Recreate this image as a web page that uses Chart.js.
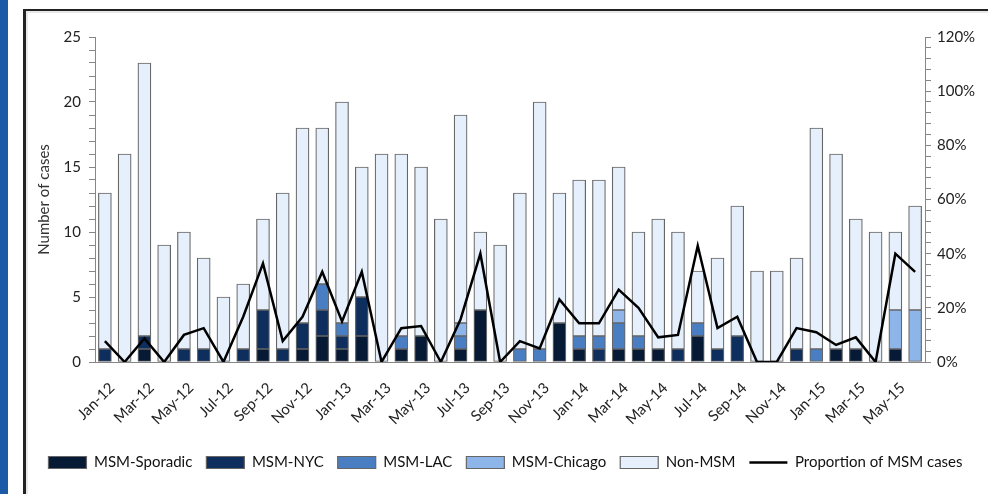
<!DOCTYPE html>
<html>
<head>
<meta charset="utf-8">
<script src="https://cdn.jsdelivr.net/npm/chart.js@4.4.1/dist/chart.umd.min.js"></script>
<style>
  html, body { margin: 0; padding: 0; background: #fff; }
  #wrap { position: relative; width: 988px; height: 494px; overflow: hidden; }
  #band { position: absolute; left: 0; top: 0; width: 8px; height: 494px; background: #1b5aa7; }
  #frame { position: absolute; left: 23px; top: 9px; right: -4px; bottom: -4px;
           border-left: 3px solid #222; border-top: 2px solid #222;
           box-shadow: inset 2px 2px 0 #e8e8e8; }
  #c { position: absolute; left: 0; top: 0; }
</style>
</head>
<body>
<div id="wrap">
  <div id="band"></div>
  <div id="frame"></div>
  <canvas id="c" width="988" height="494"></canvas>
</div>
<script>
// meses Jan-12 .. Jun-15
const months = [
  'Jan-12','Feb-12','Mar-12','Apr-12','May-12','Jun-12','Jul-12','Aug-12','Sep-12','Oct-12','Nov-12','Dec-12',
  'Jan-13','Feb-13','Mar-13','Apr-13','May-13','Jun-13','Jul-13','Aug-13','Sep-13','Oct-13','Nov-13','Dec-13',
  'Jan-14','Feb-14','Mar-14','Apr-14','May-14','Jun-14','Jul-14','Aug-14','Sep-14','Oct-14','Nov-14','Dec-14',
  'Jan-15','Feb-15','Mar-15','Apr-15','May-15','Jun-15'
];

const msmSporadic = [0,0,1,0,0,0,0,0,1,0,1,2, 1,2,0,1,2,0,1,4,0,0,0,3, 1,0,1,1,1,0,2,0,0,0,0,0, 0,1,1,0,1,0];
const msmNYC      = [1,0,1,0,1,1,0,1,3,1,2,2, 1,3,0,0,0,0,0,0,0,0,0,0, 0,1,0,0,0,1,0,1,2,0,0,1, 0,0,0,0,0,0];
const msmLAC      = [0,0,0,0,0,0,0,0,0,0,0,2, 1,0,0,1,0,0,1,0,0,1,1,0, 1,1,2,1,0,0,1,0,0,0,0,0, 1,0,0,0,0,0];
const msmChicago  = [0,0,0,0,0,0,0,0,0,0,0,0, 0,0,0,0,0,0,1,0,0,0,0,0, 0,0,1,0,0,0,0,0,0,0,0,0, 0,0,0,0,3,4];
const nonMSM      = [12,16,21,9,9,7,5,5,7,12,15,12, 17,10,16,14,13,11,16,6,9,12,19,10, 12,12,11,8,10,9,4,7,10,7,7,7, 17,15,10,10,6,8];

// proporcion de casos MSM (%), eje derecho
const propMSM = [7.7,0,8.7,0,10,12.5,0,16.7,36.4,7.7,16.7,33.3, 15,33.3,0,12.5,13.3,0,15.8,40,0,7.7,5,23.1,
                 14.3,14.3,26.7,20,9.1,10,42.9,12.5,16.7,0,0,12.5, 11,6.3,9.1,0,40,33.3];

const FONT = 'Lato, "Open Sans", sans-serif';
const AXIS_GRAY = '#868686';
const BAR_EDGE = '#666';

function barSet(label, data, color) {
  return {
    type: 'bar', label, data,
    backgroundColor: color,
    borderColor: BAR_EDGE,
    borderWidth: 1.2,
    borderSkipped: false,
    pointStyle: 'rect',
    stack: 'cases',
    yAxisID: 'y',
    order: 1,
    barThickness: 13
  };
}

new Chart(document.getElementById('c').getContext('2d'), {
  data: {
    labels: months,
    datasets: [
      barSet('MSM-Sporadic', msmSporadic, '#061a36'),
      barSet('MSM-NYC', msmNYC, '#0e2e5e'),
      barSet('MSM-LAC', msmLAC, '#4a7ec2'),
      barSet('MSM-Chicago', msmChicago, '#8db5ea'),
      barSet('Non-MSM', nonMSM, '#e6f0fc'),
      {
        type: 'line',
        label: 'Proportion of MSM cases',
        data: propMSM,
        yAxisID: 'y1',
        borderColor: '#000',
        backgroundColor: '#000',
        borderWidth: 2.5,
        pointRadius: 0,
        pointBorderWidth: 2.5,
        pointStyle: 'line',
        tension: 0,
        order: 0
      }
    ]
  },
  options: {
    responsive: false,
    animation: false,
    layout: { padding: { left: 23, right: 0, top: 37, bottom: 14 } },
    scales: {
      x: {
        stacked: true,
        grid: { display: false },
        border: { display: true, color: AXIS_GRAY, width: 1 },
        ticks: {
          autoSkip: false,
          maxRotation: 45, minRotation: 45,
          labelOffset: 7,
          padding: 9,
          color: '#222',
          font: { family: FONT, size: 15 },
          callback: (v, i) => (i % 2 === 0 ? months[i] : '')
        },
        afterFit: (s) => { s.height = 79; }
      },
      y: {
        position: 'left',
        stacked: true,
        min: 0, max: 25,
        grid: { drawOnChartArea: false, drawTicks: true, tickLength: 6, color: AXIS_GRAY },
        border: { display: true, color: AXIS_GRAY, width: 1 },
        ticks: {
          stepSize: 1,
          autoSkip: false,
          padding: 8,
          color: '#222',
          font: { family: FONT, size: 15 },
          callback: (v) => (v % 5 === 0 ? v : '')
        },
        title: {
          display: true,
          text: 'Number of cases',
          color: '#333',
          font: { family: FONT, size: 15 },
          padding: { top: 12, bottom: 0 }
        },
        afterFit: (s) => { s.width = 72; }
      },
      y1: {
        position: 'right',
        min: 0, max: 120,
        grid: { drawOnChartArea: false, drawTicks: true, tickLength: 6, color: AXIS_GRAY },
        border: { display: true, color: AXIS_GRAY, width: 1 },
        ticks: {
          stepSize: 4,
          autoSkip: false,
          padding: 6,
          color: '#222',
          font: { family: FONT, size: 15 },
          callback: (v) => (v % 20 === 0 ? v + '%' : '')
        },
        afterFit: (s) => { s.width = 63; }
      }
    },
    plugins: {
      tooltip: { enabled: false },
      legend: {
        position: 'bottom',
        labels: {
          usePointStyle: true,
          pointStyleWidth: 38,
          boxHeight: 12,
          padding: 14,
          color: '#111',
          font: { family: FONT, size: 15 },
          sort: (a, b) => a.datasetIndex - b.datasetIndex
        }
      }
    }
  }
});
</script>
</body>
</html>
